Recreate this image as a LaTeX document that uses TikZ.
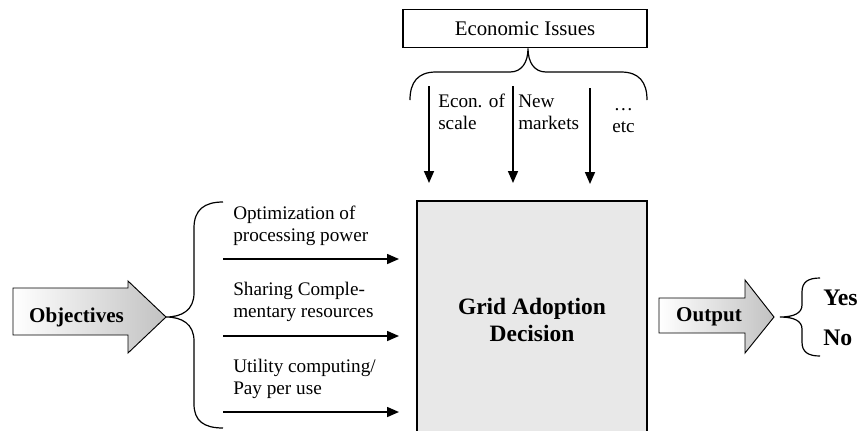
\documentclass[tikz,border=0pt]{standalone}
\usepackage{fontspec}
\setmainfont{Liberation Serif}
\usetikzlibrary{arrows.meta}
\tikzset{
  lbl/.style={font=\fontsize{14.4}{16.6}\selectfont, align=left, inner sep=0pt, anchor=west},
  bold lbl/.style={font=\fontsize{15.8}{18}\selectfont\bfseries, inner sep=0pt},
  conn/.style={line width=1.2pt, -{Triangle[length=9pt,width=7.5pt]}},
  bracel/.style={line width=0.9pt},
  fatarrow/.style={draw=black, line width=0.7pt, left color=white, right color=black!24},
  mainbox/.style={draw=black, line width=1.3pt, fill=black!9, minimum width=172.5pt, minimum height=180pt, inner sep=0pt},
  topbox/.style={draw=black, line width=0.9pt, fill=white, minimum width=183pt, minimum height=29pt, inner sep=0pt, font=\fontsize{15.6}{18}\selectfont}
}
\begin{document}
\begin{tikzpicture}[x=0.75pt,y=-0.75pt]
\useasboundingbox (0,0) rectangle (863,430);
\clip (0,0) rectangle (863,430);

% main box
\node[mainbox] (gad) at (532,321) {};
\node[font=\fontsize{17.6}{20.3}\selectfont\bfseries, align=center] (gadt) at (532,320) {Grid Adoption\\Decision};

% economic issues box
\node[topbox] (eco) at (525,28.5) {Economic Issues};

% top brace
\coordinate (tbL) at (410,100);
\coordinate (tbR) at (647,100);
\draw[bracel] (tbL) .. controls (410,82) and (418,72) .. (436,72) -- (510,72)
  .. controls (522,72) and (528,62) .. (eco.south -| 528,0)
  .. controls (528,62) and (534,72) .. (546,72) -- (621,72)
  .. controls (639,72) and (647,82) .. (tbR);

% down arrows
\coordinate (d1s) at (429,86);  \coordinate (d1e) at (429,183);
\coordinate (d2s) at (513,86);  \coordinate (d2e) at (513,183);
\coordinate (d3s) at (590,88);  \coordinate (d3e) at (590,184);
\draw[conn] (d1s) -- (d1e);
\draw[conn] (d2s) -- (d2e);
\draw[conn] (d3s) -- (d3e);
\node[lbl] (l1) at (438,112) {Econ. of\\scale};
\node[lbl] (l2) at (518,112) {New\\markets};
\node[lbl, align=center] (l3) at (612,121) {\dots\\etc};

% objectives arrow
\path[fatarrow] (13,288) -- (128,288) -- (128,281) -- (166,317) -- (128,353) -- (128,335) -- (13,335) -- cycle;
\node[bold lbl] (obj) at (76.5,317) {Objectives};
\coordinate (objtip) at (166,317);

% left brace
\draw[bracel] (223,202) .. controls (204,202) and (194,210) .. (194,228) -- (194,293)
  .. controls (194,310) and (182,317) .. (objtip)
  .. controls (182,317) and (194,324) .. (194,341) -- (194,404)
  .. controls (194,421) and (204,428) .. (223,428);

% horizontal arrows
\coordinate (h1s) at (223,259); \coordinate (h1e) at (399,259);
\coordinate (h2s) at (223,336); \coordinate (h2e) at (399,336);
\coordinate (h3s) at (223,412); \coordinate (h3e) at (399,412);
\draw[conn] (h1s) -- (h1e);
\draw[conn] (h2s) -- (h2e);
\draw[conn] (h3s) -- (h3e);
\node[lbl] (o1) at (233,226) {Optimization of\\processing power};
\node[lbl] (o2) at (233,302) {Sharing Comple-\\mentary resources};
\node[lbl] (o3) at (233,379) {Utility computing/\\Pay per use};

% output arrow
\path[fatarrow] (659,298) -- (745,298) -- (745,280) -- (774,317) -- (745,353) -- (745,333) -- (659,333) -- cycle;
\node[bold lbl] (out) at (709,317) {Output};
\coordinate (outtip) at (780,317);

% right brace
\draw[bracel] (820,278) .. controls (808,278) and (802,282) .. (802,292) -- (802,305)
  .. controls (802,313) and (794,317) .. (outtip)
  .. controls (794,317) and (802,321) .. (802,329) -- (802,342)
  .. controls (802,352) and (808,356) .. (820,356);
\node[font=\fontsize{17.8}{20}\selectfont\bfseries, inner sep=0pt, anchor=west] (yes) at (823,298) {Yes};
\node[font=\fontsize{17.8}{20}\selectfont\bfseries, inner sep=0pt, anchor=west] (no) at (823,338) {No};
\end{tikzpicture}
\end{document}
